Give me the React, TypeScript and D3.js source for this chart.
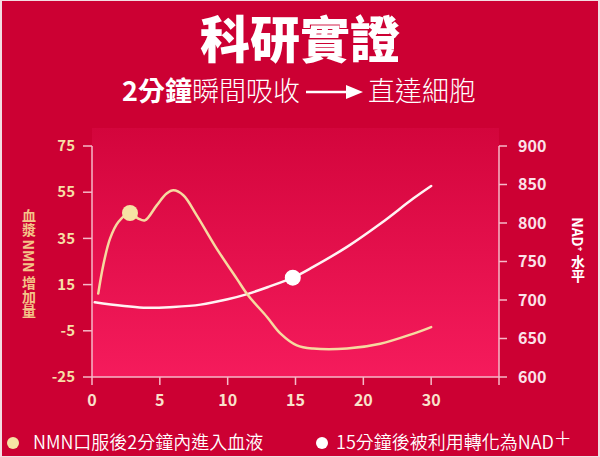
import * as d3 from "d3";

// x 軸刻度（等距排列，30 緊接在 20 後面）
const xTicks = [0, 5, 10, 15, 20, 30];
const leftTicks = [75, 55, 35, 15, -5, -25];
const rightTicks = [900, 850, 800, 750, 700, 650, 600];

// 血漿 NMN 增加量（左軸）
const nmnX = [0.46, 0.83, 1.33, 1.94, 2.8, 3.41, 3.9, 4.77, 5.5, 6.0, 6.73, 7.72, 9.19, 10.67, 11.5, 12.9, 13.9, 15.1, 16.3, 18.8, 22.5, 27.4, 30];
const nmnY = [11.1, 23.4, 34.9, 42.1, 46.0, 43.6, 42.8, 49.3, 54.4, 55.8, 53.7, 45.0, 30.6, 17.6, 10.4, 1.0, -6.2, -11.3, -12.7, -12.7, -10.6, -6.2, -3.4];

// NAD+ 水平（右軸）
const nadX = [0.2, 3.8, 6, 8, 10, 11.5, 13, 14.8, 16.3, 18.8, 22.5, 27.4, 30];
const nadY = [697, 690, 691, 694, 701, 708, 717, 729, 743, 769, 799, 832, 848];

const nmnDot = { x: 2.8, y: 46 };
const nadDot = { x: 14.8, y: 729 };

const W = 600;
const H = 457;
const L = 92;
const R = 499;
const T = 146;
const B = 377;

export default function App() {
  const step = (R - L) / xTicks.length;
  const x = d3.scaleLinear().domain(xTicks).range(xTicks.map((_, i) => L + i * step));
  const yL = d3.scaleLinear().domain([-25, 75]).range([B, T]);
  const yR = d3.scaleLinear().domain([600, 900]).range([B, T]);

  const nmnLine = d3
    .line<number>()
    .x((_, i) => x(nmnX[i]))
    .y((d) => yL(d))
    .curve(d3.curveCatmullRom.alpha(0.5));
  const nadLine = d3
    .line<number>()
    .x((_, i) => x(nadX[i]))
    .y((d) => yR(d))
    .curve(d3.curveCatmullRom.alpha(0.5));

  const axisColor = "#f6b9c8";
  const font = "'Noto Sans CJK TC', 'Noto Sans', sans-serif";

  return (
    <div>
      <style>{`body{margin:0}`}</style>
      <svg width={W} height={H} style={{ display: "block", fontFamily: font }}>
        <defs>
          <linearGradient id="plotBg" x1="0" y1="0" x2="0" y2="1">
            <stop offset="0" stopColor="#d3053c" />
            <stop offset="1" stopColor="#f51b5c" />
          </linearGradient>
        </defs>
        <rect width={W} height={H} fill="#f3dde2" />
        <rect x={2} y={1} width={W - 4} height={H - 2} fill="#cc0033" />
        <rect x={L} y={128} width={R - L} height={B - 128} fill="url(#plotBg)" />

        {/* 標題 */}
        <text x={300} y={58} textAnchor="middle" fill="#fff" fontSize={50} fontWeight={900}>
          科研實證
        </text>
        <text x={122} y={101} fill="#fff" fontSize={27}>
          <tspan fontWeight={700}>2分鐘</tspan>
          <tspan fontWeight={300}>瞬間吸收</tspan>
        </text>
        <line x1={306} x2={350} y1={92} y2={92} stroke="#fff" strokeWidth={2.5} />
        <path d="M346,85 L363,92 L346,99 Z" fill="#fff" />
        <text x={368} y={101} fill="#fff" fontSize={27} fontWeight={300}>
          直達細胞
        </text>

        {/* 左軸 */}
        <line x1={L} x2={L} y1={T} y2={B} stroke={axisColor} strokeWidth={1.5} />
        {leftTicks.map((t) => (
          <g key={t}>
            <line x1={L - 9} x2={L} y1={yL(t)} y2={yL(t)} stroke={axisColor} strokeWidth={1.5} />
            <text x={75} y={yL(t)} dy="0.35em" textAnchor="end" fill="#f7dea6" fontSize={15} fontWeight={700}>
              {t}
            </text>
          </g>
        ))}

        {/* 右軸 */}
        <line x1={R} x2={R} y1={T} y2={B + 8} stroke={axisColor} strokeWidth={1.5} />
        {rightTicks.map((t) => (
          <g key={t}>
            <line x1={R} x2={R + 8} y1={yR(t)} y2={yR(t)} stroke={axisColor} strokeWidth={1.5} />
            <text x={518} y={yR(t)} dy="0.35em" fill="#fbe2e9" fontSize={16} fontWeight={700}>
              {t}
            </text>
          </g>
        ))}

        {/* x 軸 */}
        <line x1={L} x2={R} y1={B} y2={B} stroke={axisColor} strokeWidth={1.5} />
        {xTicks.map((t) => (
          <g key={t}>
            <line x1={x(t)} x2={x(t)} y1={B} y2={B + 8} stroke={axisColor} strokeWidth={1.5} />
            <text x={x(t)} y={400} dy="0.35em" textAnchor="middle" fill="#f9e2cc" fontSize={16} fontWeight={700}>
              {t}
            </text>
          </g>
        ))}

        {/* 軸標題 */}
        <text
          x={29}
          y={263}
          textAnchor="middle"
          fill="#f4c488"
          fontSize={14}
          fontWeight={700}
          style={{ writingMode: "vertical-rl" }}
        >
          血漿 NMN 增加量
        </text>
        <text
          x={578}
          y={250}
          textAnchor="middle"
          fill="#fff"
          fontSize={14}
          fontWeight={700}
          style={{ writingMode: "vertical-rl" }}
        >
          NAD⁺ 水平
        </text>

        {/* 曲線 */}
        <path d={nadLine(nadY) ?? ""} fill="none" stroke="#fff3f3" strokeWidth={2.5} strokeLinecap="round" />
        <path d={nmnLine(nmnY) ?? ""} fill="none" stroke="#f6d9a0" strokeWidth={2.5} strokeLinecap="round" />
        <circle cx={x(nmnDot.x)} cy={yL(nmnDot.y)} r={8} fill="#f6e3a4" />
        <circle cx={x(nadDot.x)} cy={yR(nadDot.y)} r={8} fill="#fff" />

        {/* 圖例 */}
        <circle cx={13} cy={443} r={6} fill="#f6e3a4" />
        <text x={33} y={443} dy="0.35em" fill="#fff" fontSize={18} fontWeight={350}>
          NMN口服後2分鐘內進入血液
        </text>
        <circle cx={322} cy={443} r={6} fill="#fff" />
        <text x={336} y={443} dy="0.35em" fill="#fff" fontSize={18} fontWeight={350}>
          15分鐘後被利用轉化為NAD<tspan dy={-4}>＋</tspan>
        </text>
      </svg>
    </div>
  );
}
